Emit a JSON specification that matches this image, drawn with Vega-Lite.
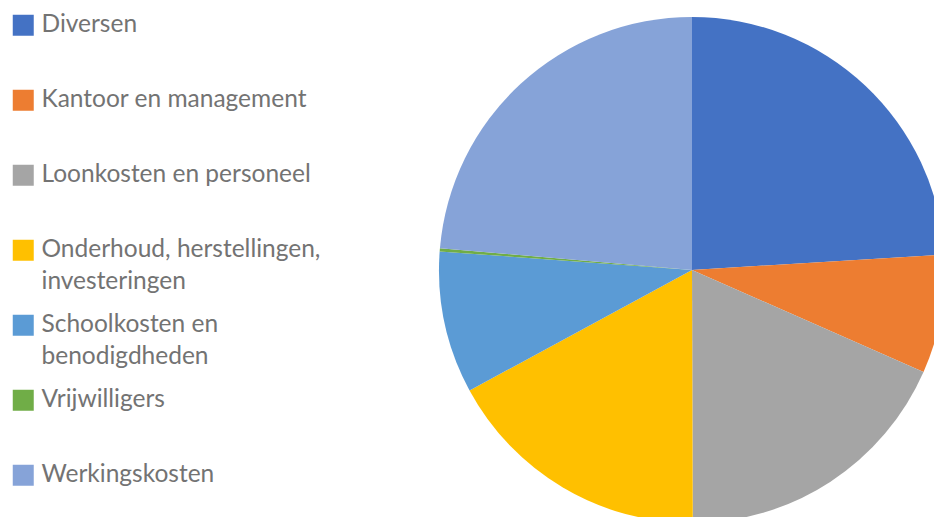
{
  "$schema": "https://vega.github.io/schema/vega-lite/v6.json",
  "width": 506,
  "height": 506,
  "autosize": {"type": "none"},
  "padding": {"left": 439, "top": 17, "right": 0, "bottom": 0},
  "background": "white",
  "config": {"view": {"stroke": null}},
  "data": {
    "values": [
      {"category": "Diversen", "value": 24.1},
      {"category": "Kantoor en management", "value": 7.6},
      {"category": "Loonkosten en personeel", "value": 18.4},
      {"category": "Onderhoud, herstellingen, investeringen", "value": 17.2},
      {"category": "Schoolkosten en benodigdheden", "value": 9.1},
      {"category": "Vrijwilligers", "value": 0.2},
      {"category": "Werkingskosten", "value": 23.7}
    ]
  },
  "mark": {"type": "arc"},
  "encoding": {
    "theta": {"field": "value", "type": "quantitative", "stack": true},
    "order": {"field": "category", "type": "nominal"},
    "color": {
      "field": "category",
      "type": "nominal",
      "scale": {
        "domain": ["Diversen", "Kantoor en management", "Loonkosten en personeel", "Onderhoud, herstellingen, investeringen", "Schoolkosten en benodigdheden", "Vrijwilligers", "Werkingskosten"],
        "range": ["#4472C4", "#ED7D31", "#A5A5A5", "#FFC000", "#5B9BD5", "#70AD47", "#86A3D8"]
      },
      "legend": {
        "title": null,
        "orient": "none",
        "legendX": -428,
        "legendY": -4,
        "direction": "vertical",
        "symbolType": "square",
        "symbolSize": 441,
        "symbolStrokeWidth": 0,
        "symbolOpacity": 1,
        "labelFont": "Lato",
        "labelFontSize": 24.5,
        "labelColor": "#737373",
        "labelOffset": 6,
        "labelLimit": 400,
        "gridAlign": "all",
        "rowPadding": 18,
        "labelExpr": "datum.label == 'Onderhoud, herstellingen, investeringen' ? ['Onderhoud, herstellingen,', 'investeringen'] : datum.label == 'Schoolkosten en benodigdheden' ? ['Schoolkosten en', 'benodigdheden'] : datum.label",
        "encode": {"labels": {"update": {"lineHeight": {"value": 32}}}}
      }
    }
  }
}
